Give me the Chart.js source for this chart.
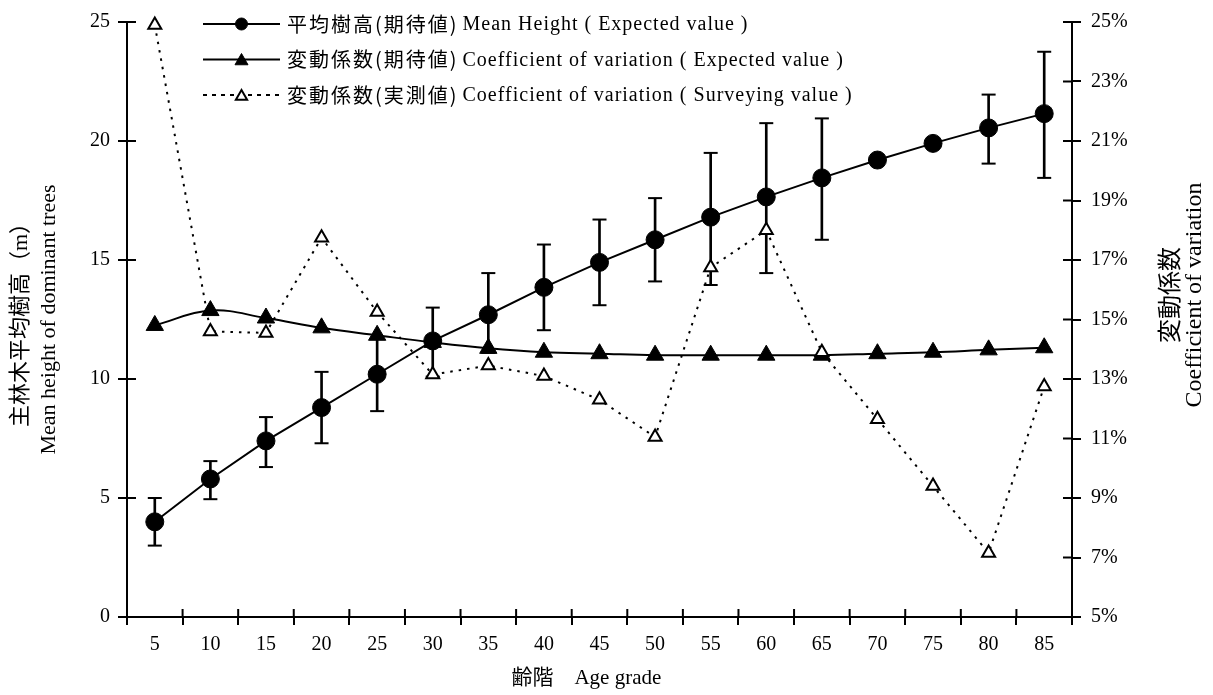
<!DOCTYPE html>
<html>
<head>
<meta charset="utf-8">
<script src="https://cdn.jsdelivr.net/npm/chart.js@4.4.1/dist/chart.umd.min.js"></script>
<style>
html,body{margin:0;padding:0;background:#fff;}
canvas{display:block;}
</style>
</head>
<body>
<canvas id="c" width="1213" height="695"></canvas>
<script>
// ---- data ----
const ageGrades = ['5','10','15','20','25','30','35','40','45','50','55','60','65','70','75','80','85'];
const meanHeight = [4.0, 5.8, 7.4, 8.8, 10.2, 11.6, 12.7, 13.85, 14.9, 15.85, 16.8, 17.65, 18.45, 19.2, 19.9, 20.55, 21.15];
const heightUpper = [5.0, 6.55, 8.4, 10.3, 11.7, 13.0, 14.45, 15.65, 16.7, 17.6, 19.5, 20.75, 20.95, null, null, 21.95, 23.75];
const heightLower = [3.0, 4.95, 6.3, 7.3, 8.65, 10.1, 11.1, 12.05, 13.1, 14.1, 13.95, 14.45, 15.85, null, null, 19.05, 18.45];
const cvExpected = [14.8, 15.3, 15.05, 14.72, 14.47, 14.23, 14.03, 13.9, 13.85, 13.8, 13.8, 13.8, 13.8, 13.85, 13.9, 13.98, 14.05];
const cvSurvey = [24.9, 14.6, 14.55, 17.75, 15.25, 13.15, 13.45, 13.1, 12.3, 11.05, 16.75, 18.0, 13.9, 11.65, 9.4, 7.15, 12.75];
const leftTicks = [0, 5, 10, 15, 20, 25];
const rightTicks = [5, 7, 9, 11, 13, 15, 17, 19, 21, 23, 25];
const legendCJK = ['平均樹高(期待値)', '変動係数(期待値)', '変動係数(実測値)'];
const legendEN = ['Mean Height ( Expected value )', 'Coefficient of variation ( Expected value )', 'Coefficient of variation ( Surveying value )'];
const leftTitle = ['主林木平均樹高（m）', 'Mean height of dominant trees'];
const rightTitle = ['変動係数', 'Coefficient of variation'];
const xTitle = '齢階　Age grade　 ';

// ---- fonts ----
const SERIF = "'Liberation Serif', 'Times New Roman', serif";
const CJK = "'Noto Sans CJK JP', 'Noto Sans CJK SC', sans-serif";
const MIXED = "'Liberation Serif', 'Noto Sans CJK JP', serif";

Chart.defaults.font.family = SERIF;
Chart.defaults.color = '#000';

const errBars = heightLower.map((lo, i) => (lo === null || heightUpper[i] === null) ? null : [lo, heightUpper[i]]);

// inner half of the cross-shaped tick marks
const innerTicks = {
  id: 'innerTicks',
  beforeDatasetsDraw(chart) {
    const ctx = chart.ctx, a = chart.chartArea, s = chart.scales;
    ctx.save();
    ctx.strokeStyle = '#000';
    ctx.lineWidth = 2;
    ctx.beginPath();
    s.y.ticks.forEach((t, i) => { const p = s.y.getPixelForTick(i); ctx.moveTo(a.left, p); ctx.lineTo(a.left + 9, p); });
    s.y1.ticks.forEach((t, i) => { const p = s.y1.getPixelForTick(i); ctx.moveTo(a.right - 9, p); ctx.lineTo(a.right, p); });
    for (let i = 0; i <= ageGrades.length; i++) {
      const p = s.x.getPixelForValue(i - 0.5);
      ctx.moveTo(p, a.bottom); ctx.lineTo(p, a.bottom - 8);
    }
    ctx.stroke();
    ctx.restore();
  }
};

// legend with mixed CJK / Latin fonts, drawn inside the plot area
const mixedLegend = {
  id: 'mixedLegend',
  afterDraw(chart) {
    const ctx = chart.ctx, a = chart.chartArea;
    const drawPoint = Chart.helpers && Chart.helpers.drawPoint;
    const x0 = a.left + 76, x1 = a.left + 153, mx = (x0 + x1) / 2, tx = a.left + 160;
    const markerR = [6, 7.5, 6.5];
    const legendDash = [[], [], [4, 5]];
    for (let i = 0; i < 3; i++) {
      const ds = chart.data.datasets[i];
      const ry = a.top + 2 + i * 35.5;
      ctx.save();
      ctx.strokeStyle = '#000';
      ctx.lineWidth = ds.borderWidth;
      ctx.setLineDash(legendDash[i]);
      ctx.beginPath(); ctx.moveTo(x0, ry); ctx.lineTo(x1, ry); ctx.stroke();
      ctx.setLineDash([]);
      ctx.fillStyle = ds.pointBackgroundColor;
      ctx.strokeStyle = ds.pointBorderColor;
      ctx.lineWidth = ds.pointBorderWidth;
      if (drawPoint) drawPoint(ctx, {pointStyle: ds.pointStyle, radius: markerR[i], rotation: 0, borderWidth: ds.pointBorderWidth}, mx, ry + (ds.pointStyle === 'triangle' ? 1.5 : 0));
      ctx.fillStyle = '#000';
      ctx.textBaseline = 'middle';
      ctx.textAlign = 'left';
      ctx.font = '20px ' + CJK;
      if ('letterSpacing' in ctx) ctx.letterSpacing = '2px';
      ctx.fillText(legendCJK[i], tx, ry);
      const w = ctx.measureText(legendCJK[i]).width;
      ctx.font = '20px ' + SERIF;
      if ('letterSpacing' in ctx) ctx.letterSpacing = '1px';
      ctx.fillText(legendEN[i], tx + w + 4, ry + 1);
      ctx.restore();
    }
  }
};

// right axis title, reading bottom-to-top like the left one
const rightAxisTitle = {
  id: 'rightAxisTitle',
  afterDraw(chart) {
    const ctx = chart.ctx, a = chart.chartArea;
    const cy = a.top + 273;
    ctx.save();
    ctx.fillStyle = '#000';
    ctx.textAlign = 'center';
    ctx.textBaseline = 'middle';
    ctx.translate(a.right + 97, cy);
    ctx.rotate(-Math.PI / 2);
    ctx.font = '24px ' + CJK;
    ctx.fillText(rightTitle[0], 0, 0);
    ctx.restore();
    ctx.save();
    ctx.fillStyle = '#000';
    ctx.textAlign = 'center';
    ctx.textBaseline = 'middle';
    ctx.translate(a.right + 123, cy);
    ctx.rotate(-Math.PI / 2);
    ctx.font = '24px ' + SERIF;
    ctx.fillText(rightTitle[1], 0, 0);
    ctx.restore();
  }
};

new Chart(document.getElementById('c'), {
  data: {
    labels: ageGrades,
    datasets: [
      {
        type: 'line', label: legendEN[0], data: meanHeight, yAxisID: 'y', order: 1,
        borderColor: '#000', borderWidth: 2, tension: 0,
        pointStyle: 'circle', pointRadius: 9, pointBackgroundColor: '#000', pointBorderColor: '#000', pointBorderWidth: 1,
        clip: false
      },
      {
        type: 'line', label: legendEN[1], data: cvExpected, yAxisID: 'y1', order: 2,
        borderColor: '#000', borderWidth: 2, tension: 0.4,
        pointStyle: 'triangle', pointRadius: 10, pointBackgroundColor: '#000', pointBorderColor: '#000', pointBorderWidth: 1,
        clip: false
      },
      {
        type: 'line', label: legendEN[2], data: cvSurvey, yAxisID: 'y1', order: 0,
        borderColor: '#000', borderWidth: 2, borderDash: [2.5, 6], tension: 0,
        pointStyle: 'triangle', pointRadius: 7.5, pointBackgroundColor: '#fff', pointBorderColor: '#000', pointBorderWidth: 2,
        clip: false
      },
      {
        type: 'bar', label: 'err', data: errBars, yAxisID: 'y', order: 3,
        backgroundColor: '#000', borderWidth: 0, barThickness: 2
      },
      {
        type: 'line', label: 'capHi', data: heightUpper, yAxisID: 'y', order: 3, showLine: false,
        pointStyle: 'line', pointRadius: 7, pointBorderColor: '#000', pointBorderWidth: 2, clip: false
      },
      {
        type: 'line', label: 'capLo', data: heightLower, yAxisID: 'y', order: 3, showLine: false,
        pointStyle: 'line', pointRadius: 7, pointBorderColor: '#000', pointBorderWidth: 2, clip: false
      }
    ]
  },
  options: {
    responsive: false,
    animation: false,
    events: [],
    layout: { padding: { top: 20, left: 0, right: 0, bottom: 0 } },
    plugins: { legend: { display: false }, tooltip: { enabled: false } },
    scales: {
      x: {
        type: 'category', offset: true,
        grid: { offset: true, drawOnChartArea: false, drawTicks: true, tickLength: 8, color: '#000', lineWidth: 2 },
        border: { display: true, color: '#000', width: 2 },
        ticks: { font: { family: SERIF, size: 20 }, color: '#000', padding: 8, maxRotation: 0, autoSkip: false },
        title: { display: true, text: xTitle, font: { family: MIXED, size: 21 }, color: '#000', padding: { top: 0, bottom: 4 } },
        afterFit(scale) { scale.height = 78; }
      },
      y: {
        type: 'linear', position: 'left', min: 0, max: 25,
        afterBuildTicks(scale) { scale.ticks = leftTicks.map(v => ({ value: v })); },
        grid: { drawOnChartArea: false, drawTicks: true, tickLength: 9, color: '#000', lineWidth: 2 },
        border: { display: true, color: '#000', width: 2 },
        ticks: { font: { family: SERIF, size: 20 }, color: '#000', padding: 8 },
        title: { display: true, text: leftTitle, font: { family: MIXED, size: 22, lineHeight: 1.27 }, color: '#000', padding: { top: 7, bottom: 0 } },
        afterFit(scale) { scale.width = 127; }
      },
      y1: {
        type: 'linear', position: 'right', min: 5, max: 25,
        afterBuildTicks(scale) { scale.ticks = rightTicks.map(v => ({ value: v })); },
        grid: { drawOnChartArea: false, drawTicks: true, tickLength: 9, color: '#000', lineWidth: 2 },
        border: { display: true, color: '#000', width: 2 },
        ticks: { font: { family: SERIF, size: 20 }, color: '#000', padding: 10, callback: v => v + '%' },
        afterFit(scale) { scale.width = 141; }
      }
    }
  },
  plugins: [innerTicks, mixedLegend, rightAxisTitle]
});
</script>
</body>
</html>
